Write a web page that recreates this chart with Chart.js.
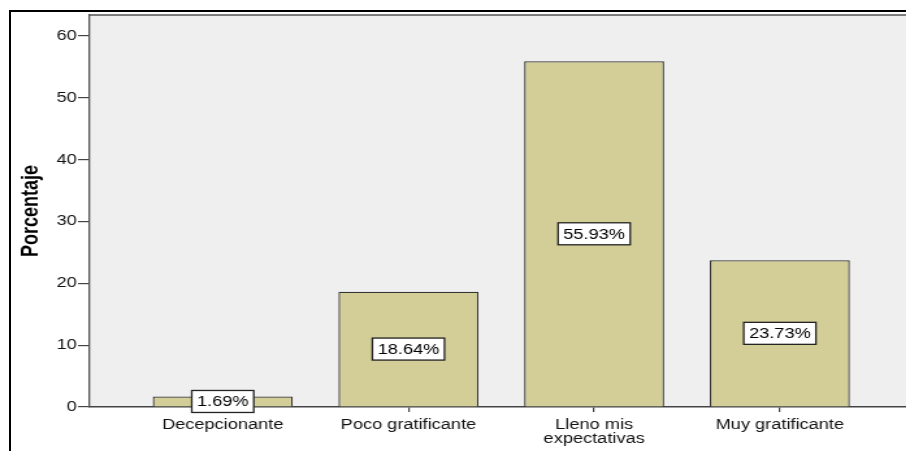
<!DOCTYPE html>
<html>
<head>
<meta charset="utf-8">
<script src="https://cdn.jsdelivr.net/npm/chart.js@4"></script>
<style>
  html, body { margin: 0; padding: 0; background: #fff; overflow: hidden; }
  #marco {
    position: absolute; left: 9px; top: 10px; width: 1000px; height: 1000px;
    border-top: 2px solid #000; border-left: 2px solid #000;
  }
  /* el gráfico se dibuja más angosto y se estira en horizontal */
  #lienzo {
    position: absolute; left: 0; top: 0; width: 697px; height: 451px;
    transform: scaleX(1.3); transform-origin: 0 0;
  }
</style>
</head>
<body>
<div id="marco"></div>
<div id="lienzo"><canvas id="grafico"></canvas></div>
<script>
const categorias = ['Decepcionante', 'Poco gratificante', ['Lleno mis', 'expectativas'], 'Muy gratificante'];
const porcentajes = [1.69, 18.64, 55.93, 23.73];
const marcasY = [0, 10, 20, 30, 40, 50, 60];

const fuente = '"Liberation Sans", Arial, sans-serif';

// fondo gris del área de trazado
const fondoArea = {
  id: 'fondoArea',
  beforeDraw(chart) {
    const { ctx, chartArea: a } = chart;
    ctx.save();
    ctx.fillStyle = '#efefef';
    ctx.fillRect(a.left, a.top, a.right - a.left, a.bottom - a.top);
    ctx.strokeStyle = '#555';
    ctx.lineWidth = 1.5;
    ctx.beginPath();
    ctx.moveTo(a.left, a.top);
    ctx.lineTo(a.right, a.top);
    ctx.stroke();
    ctx.restore();
  }
};

// etiquetas con recuadro blanco en el centro de cada barra
const etiquetas = {
  id: 'etiquetas',
  afterDraw(chart) {
    const ctx = chart.ctx;
    const meta = chart.getDatasetMeta(0);
    ctx.save();
    ctx.font = '14px ' + fuente;
    ctx.textAlign = 'center';
    ctx.textBaseline = 'middle';
    meta.data.forEach((barra, i) => {
      const texto = porcentajes[i].toFixed(2) + '%';
      const w = ctx.measureText(texto).width + 8;
      const h = 22;
      const cx = barra.x;
      const cy = (barra.y + barra.base) / 2;
      ctx.fillStyle = '#fff';
      ctx.fillRect(cx - w / 2, cy - h / 2, w, h);
      ctx.strokeStyle = '#222';
      ctx.lineWidth = 1.3;
      ctx.strokeRect(cx - w / 2, cy - h / 2, w, h);
      ctx.fillStyle = '#000';
      ctx.fillText(texto, cx, cy + 1);
    });
    ctx.restore();
  }
};

new Chart(document.getElementById('grafico'), {
  type: 'bar',
  data: {
    datasets: [{
      data: porcentajes.map((v, i) => ({ x: i, y: v })),
      backgroundColor: '#d3ce97',
      borderColor: '#333',
      borderWidth: 1.3,
      barPercentage: 0.754,
      categoryPercentage: 1
    }]
  },
  options: {
    responsive: true,
    maintainAspectRatio: false,
    animation: false,
    layout: { padding: { top: 15, left: 0, right: 0, bottom: 0 } },
    plugins: {
      legend: { display: false },
      tooltip: { enabled: false }
    },
    scales: {
      x: {
        type: 'linear',
        min: -0.72,
        max: 3.68,
        offset: false,
        afterBuildTicks: s => { s.ticks = categorias.map((c, i) => ({ value: i })); },
        afterFit: s => { s.height = 44; },
        ticks: {
          callback: (v, i) => categorias[i],
          font: { family: fuente, size: 14, lineHeight: 1 },
          color: '#111',
          padding: 6,
          maxRotation: 0,
          autoSkip: false
        },
        grid: { offset: false, drawOnChartArea: false, tickLength: 5, color: '#444', lineWidth: 1.2 },
        border: { color: '#444', width: 1.5 }
      },
      y: {
        min: 0,
        max: 63.4,
        afterBuildTicks: s => { s.ticks = marcasY.map(v => ({ value: v })); },
        afterFit: s => { s.width = 68.5; },
        ticks: {
          font: { family: fuente, size: 14 },
          color: '#111',
          padding: 1
        },
        grid: { drawOnChartArea: false, tickLength: 8.5, color: '#444', lineWidth: 1.2 },
        border: { color: '#555', width: 1.3 },
        title: {
          display: true,
          text: 'Porcentaje',
          font: { family: fuente, size: 18, weight: 'bold' },
          color: '#000',
          padding: { top: 13, bottom: 0 }
        }
      }
    }
  },
  plugins: [fondoArea, etiquetas]
});
</script>
</body>
</html>
